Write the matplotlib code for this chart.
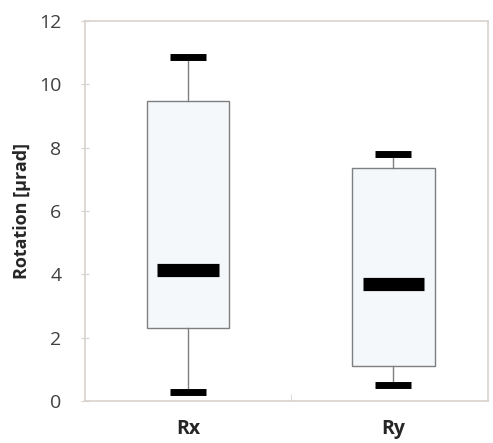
import matplotlib.pyplot as plt

# values
categories = ["Rx", "Ry"]
whisker_low = [0.28, 0.5]
box_low = [2.3, 1.1]
medians = [4.14, 3.69]
box_high = [9.47, 7.36]
whisker_high = [10.86, 7.8]
y_ticks = [0, 2, 4, 6, 8, 10, 12]

plt.rcParams['font.family'] = ['Open Sans', 'DejaVu Sans']

fig = plt.figure(figsize=(4.93, 4.43), dpi=100)
ax = fig.add_axes([0.1724, 0.0948, 0.8176, 0.8578])

stats = []
for i, name in enumerate(categories):
    stats.append(dict(label=name, whislo=whisker_low[i], q1=box_low[i], med=medians[i],
                      q3=box_high[i], whishi=whisker_high[i], fliers=[]))

pos = [1, 2]
ax.bxp(stats, positions=pos, widths=0.4, capwidths=0.175, patch_artist=True,
       showfliers=False,
       boxprops=dict(facecolor='#f4f8fb', edgecolor='#7f7f7f', linewidth=1.0),
       whiskerprops=dict(color='#7f7f7f', linewidth=1.0),
       capprops=dict(color='black', linewidth=5.0, solid_capstyle='butt'),
       medianprops=dict(linewidth=0))

# thick median bars, narrower than the boxes
ax.hlines(medians, [p - 0.15 for p in pos], [p + 0.15 for p in pos],
          colors='black', linewidth=9.5, capstyle='butt', zorder=4)

ax.set_xlim(0.5, 2.46)
ax.set_ylim(0, 12)
ax.set_yticks(y_ticks)
ax.tick_params(axis='y', labelsize=14, labelcolor='#404040', color='#d8d2cc',
               direction='inout', length=6, pad=14)
ax.set_xticks([1.5], minor=True)
ax.set_xticks(pos)
ax.set_xticklabels(categories, fontsize=14, fontweight='bold', color='#262626')
ax.tick_params(axis='x', which='major', length=0, pad=13)
ax.tick_params(axis='x', which='minor', direction='in', length=5, color='#d8d2cc')

for s in ax.spines.values():
    s.set_color('#d8d2cc')
    s.set_linewidth(1.2)

ax.set_ylabel('Rotation [µrad]', fontsize=13, fontweight='bold', color='#262626', labelpad=6)

fig.savefig('out.png', dpi=100)
